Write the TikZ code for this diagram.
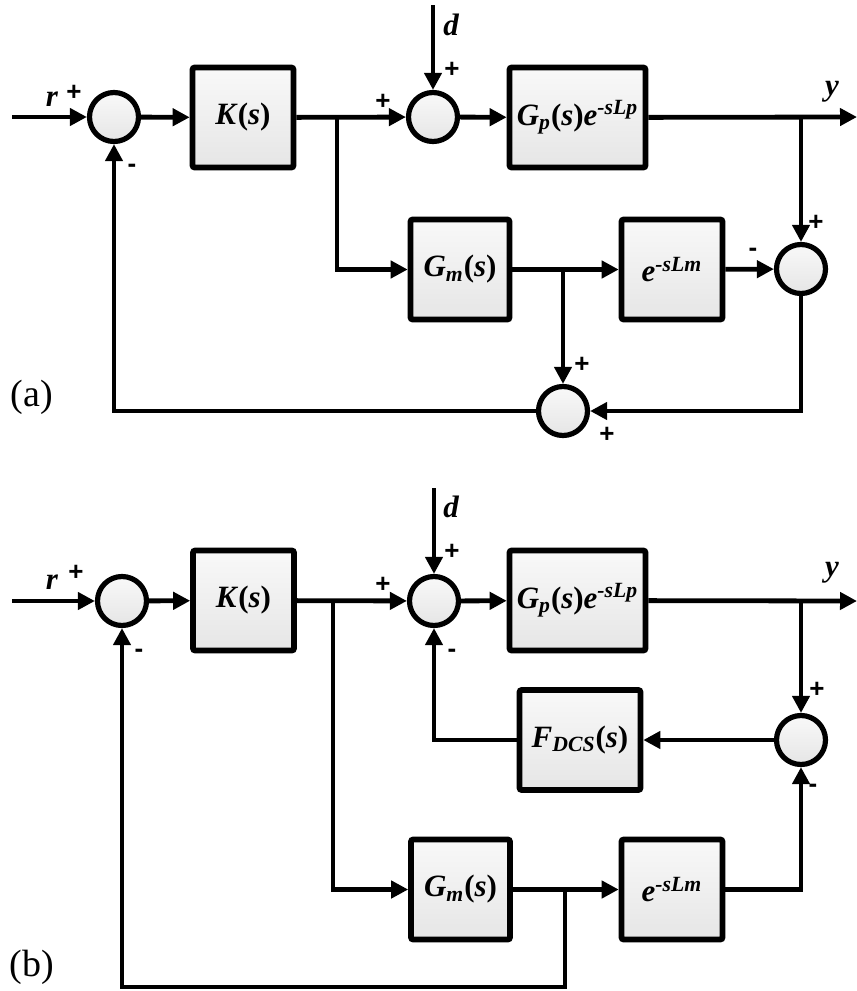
\documentclass[tikz,border=0pt]{standalone}
\usepackage{fontspec}
\setmainfont{Liberation Serif}
\newfontfamily\signfont{Liberation Sans}
\usetikzlibrary{arrows.meta}

\newcommand{\bi}[1]{\textbf{\textit{#1}}}
\newcommand{\bu}[1]{\textbf{#1}}

\begin{document}
\begin{tikzpicture}[
    x=0.5pt,
    y=-0.5pt,
    every node/.style={inner sep=0pt},
    block/.style={draw=black, line width=2.8pt, rounded corners=1pt, top color=gray!5, bottom color=gray!20, minimum height=50pt, font=\fontsize{15.5}{17}\selectfont},
    sumnode/.style={circle, draw=black, line width=2.6pt, top color=gray!5, bottom color=gray!20, minimum size=24.5pt},
    sig/.style={line width=2.4pt, -{Triangle[length=8.5pt,width=8.5pt]}},
    sign/.style={font=\signfont\bfseries\fontsize{13}{13}\selectfont},
    var/.style={font=\fontsize{15.5}{17}\selectfont\bfseries\itshape},
    tag/.style={font=\fontsize{19}{21}\selectfont}
  ]
    \useasboundingbox (0,0) rectangle (857,991);

    % (a)
    \node[sumnode] (suma1) at (114,117) {};
    \node[block, minimum width=50.5pt] (ka) at (243,117.5) {\bi{K}\bu{(}\bi{s}\bu{)}};
    \node[sumnode] (suma2) at (433,117) {};
    \node[block, minimum width=68pt] (gpa) at (577.5,117.5) {\bi{G}\textsubscript{\bi{p}}\bu{(}\bi{s}\bu{)}\bi{e}\textsuperscript{\bi{-sLp}}};
    \node[block, minimum width=49.5pt] (gma) at (460,269.5) {\bi{G}\textsubscript{\bi{m}}\bu{(}\bi{s}\bu{)}};
    \node[block, minimum width=50.5pt] (ea) at (672,269.5) {\bi{e}\textsuperscript{\bi{-sLm}}};
    \node[sumnode] (suma3) at (801,269) {};
    \node[sumnode] (suma4) at (563,411) {};

    \coordinate (ina) at (12,117);
    \coordinate (outa) at (857,117);
    \coordinate (dtopa) at (433,5);
    \coordinate (kspa) at (337,117);
    \coordinate (yspa) at (801,117);
    \coordinate (mspa) at (563,269);

    \draw[sig] (ina) -- (suma1);
    \draw[sig] (suma1) -- (ka);
    \draw[sig] (ka) -- (suma2);
    \draw[sig] (dtopa) -- (suma2);
    \draw[sig] (suma2) -- (gpa);
    \draw[sig] (gpa) -- (outa);
    \draw[sig] (kspa) |- (gma);
    \draw[sig] (gma) -- (ea);
    \draw[sig] (ea) -- (suma3);
    \draw[sig] (yspa) -- (suma3);
    \draw[sig] (mspa) -- (suma4);
    \draw[sig] (suma3) |- (suma4);
    \draw[sig] (suma4) -| (suma1);

    \node[var] (ra) at (52,99) {r};
    \node[sign] (pra) at (74,93) {+};
    \node[sign] (mfa) at (132,168) {-};
    \node[sign] (pka) at (383,102) {+};
    \node[var] (da) at (451,25) {d};
    \node[sign] (pda) at (452,70) {+};
    \node[var] (ya) at (832,92) {y};
    \node[sign] (pya) at (816,223) {+};
    \node[sign] (mea) at (753,252) {-};
    \node[sign] (pma) at (582,365) {+};
    \node[sign] (psa) at (607,435) {+};
    \node[tag] (taga) at (32,397) {(a)};

    % (b)
    \node[sumnode] (sumb1) at (122,601) {};
    \node[block, minimum width=50.5pt] (kb) at (243.5,600.5) {\bi{K}\bu{(}\bi{s}\bu{)}};
    \node[sumnode] (sumb2) at (434,601) {};
    \node[block, minimum width=68pt] (gpb) at (577.5,600.5) {\bi{G}\textsubscript{\bi{p}}\bu{(}\bi{s}\bu{)}\bi{e}\textsuperscript{\bi{-sLp}}};
    \node[sumnode] (sumb3) at (801,740) {};
    \node[block, minimum width=60.5pt] (fb) at (580,740) {\bi{F}\textsubscript{\bi{DCS}}\bu{(}\bi{s}\bu{)}};
    \node[block, minimum width=49.5pt] (gmb) at (460.5,889.5) {\bi{G}\textsubscript{\bi{m}}\bu{(}\bi{s}\bu{)}};
    \node[block, minimum width=50.5pt] (eb) at (672,889.5) {\bi{e}\textsuperscript{\bi{-sLm}}};

    \coordinate (inb) at (12,601);
    \coordinate (outb) at (857,601);
    \coordinate (dtopb) at (434,488);
    \coordinate (kspb) at (333,601);
    \coordinate (yspb) at (801,601);
    \coordinate (mspb) at (565,889.5);
    \coordinate (lowb) at (565,987);

    \draw[sig] (inb) -- (sumb1);
    \draw[sig] (sumb1) -- (kb);
    \draw[sig] (kb) -- (sumb2);
    \draw[sig] (dtopb) -- (sumb2);
    \draw[sig] (sumb2) -- (gpb);
    \draw[sig] (gpb) -- (outb);
    \draw[sig] (yspb) -- (sumb3);
    \draw[sig] (sumb3) -- (fb);
    \draw[sig] (fb) -| (sumb2);
    \draw[sig] (kspb) |- (gmb);
    \draw[sig] (gmb) -- (eb);
    \draw[sig] (eb) -| (sumb3);
    \draw[sig] (mspb) -- (lowb) -| (sumb1);

    \node[var] (rb) at (52,582) {r};
    \node[sign] (prb) at (76,573) {+};
    \node[sign] (mfb) at (139,653) {-};
    \node[sign] (pkb) at (383,585) {+};
    \node[var] (db) at (451,507) {d};
    \node[sign] (pdb) at (452,552) {+};
    \node[sign] (mgb) at (452,653) {-};
    \node[var] (yb) at (832,573) {y};
    \node[sign] (pyb) at (817,690) {+};
    \node[sign] (meb) at (813,788) {-};
    \node[tag] (tagb) at (32,967) {(b)};
  \end{tikzpicture}
\end{document}
